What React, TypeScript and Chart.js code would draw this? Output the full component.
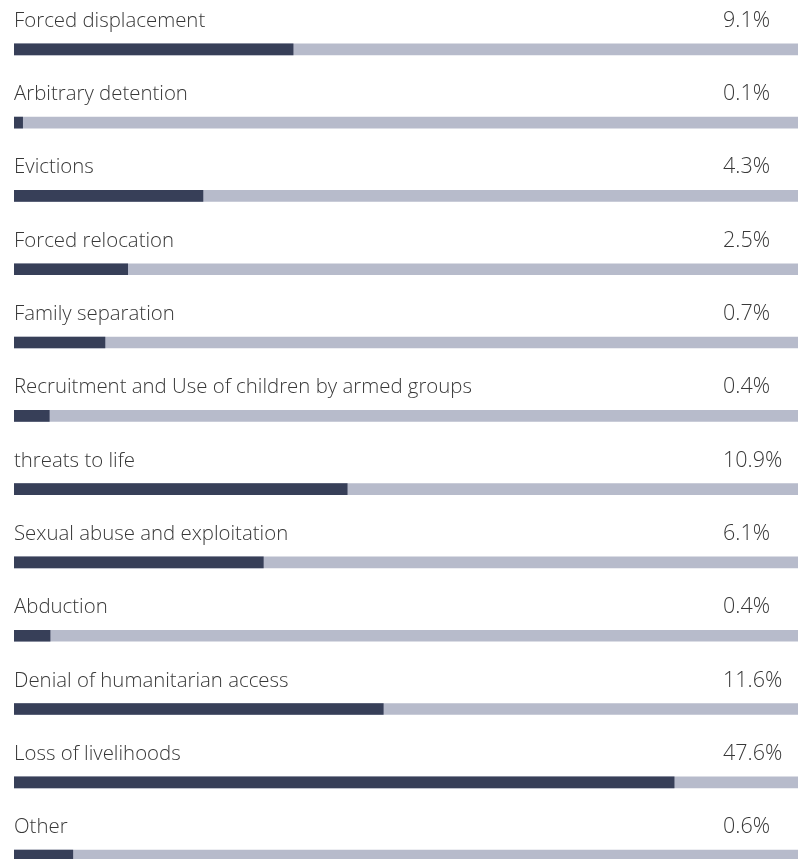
import React, { useEffect, useRef } from "react";
import { Chart, registerables } from "chart.js";

Chart.register(...registerables);

const categories: string[] = [
  "Forced displacement",
  "Arbitrary detention",
  "Evictions",
  "Forced relocation",
  "Family separation",
  "Recruitment and Use of children by armed groups",
  "threats to life",
  "Sexual abuse and exploitation",
  "Abduction",
  "Denial of humanitarian access",
  "Loss of livelihoods",
  "Other",
];

// Percentages printed at the right of each row
const percentages: number[] = [9.1, 0.1, 4.3, 2.5, 0.7, 0.4, 10.9, 6.1, 0.4, 11.6, 47.6, 0.6];

// Length of each dark bar, as a share (%) of the full grey track
const barShare: number[] = [35.6, 1.1, 24.1, 14.5, 11.6, 4.5, 42.5, 31.8, 4.6, 47.1, 84.2, 7.5];

const trackFull = 100;

const DARK = "#373f58";
const TRACK = "#b7bbcb";
const TEXT = "#383838";

export default function App() {
  const ref = useRef<HTMLCanvasElement | null>(null);

  useEffect(() => {
    if (!ref.current) return;

    const labelPlugin = {
      id: "rowLabels",
      afterDatasetsDraw(chart: any) {
        const ctx = chart.ctx;
        const meta = chart.getDatasetMeta(0);
        ctx.save();
        ctx.fillStyle = TEXT;
        ctx.textBaseline = "alphabetic";
        ctx.textAlign = "left";
        meta.data.forEach((bar: any, i: number) => {
          const top = bar.y - bar.height / 2;
          const baseY = top - 17;
          ctx.font = '300 20.4px "Open Sans", "Roboto", "Liberation Sans", sans-serif';
          ctx.fillText(chart.data.labels[i], 14, baseY);
          ctx.font = '300 21.5px "Open Sans", "Roboto", "Liberation Sans", sans-serif';
          ctx.fillText(percentages[i].toFixed(1) + "%", 723, baseY);
        });
        ctx.restore();
      },
    };

    const chart = new Chart(ref.current, {
      type: "bar",
      data: {
        labels: categories,
        datasets: [
          {
            data: barShare.map((v, i) => ({ x: v, y: i })),
            backgroundColor: DARK,
            barThickness: 11,
            borderWidth: 0,
          },
          {
            data: categories.map((_, i) => ({ x: trackFull, y: i })),
            backgroundColor: TRACK,
            barThickness: 11,
            borderWidth: 0,
          },
        ],
      },
      options: {
        indexAxis: "y",
        responsive: false,
        animation: false,
        grouped: false,
        layout: { padding: { left: 14, right: 0, top: 0, bottom: 0 } },
        plugins: {
          legend: { display: false },
          tooltip: { enabled: false },
        },
        scales: {
          x: { type: "linear", min: 0, max: trackFull, display: false, offset: false },
          y: {
            type: "linear",
            reverse: true,
            offset: false,
            grace: 0,
            min: -0.6726,
            max: 11.046,
            display: false,
          },
        },
      } as any,
      plugins: [labelPlugin],
    });

    return () => chart.destroy();
  }, []);

  return (
    <div style={{ position: "absolute", left: 0, top: 0, width: 798, height: 859, background: "#fff" }}>
      <canvas ref={ref} width={798} height={859} style={{ display: "block" }} />
    </div>
  );
}
